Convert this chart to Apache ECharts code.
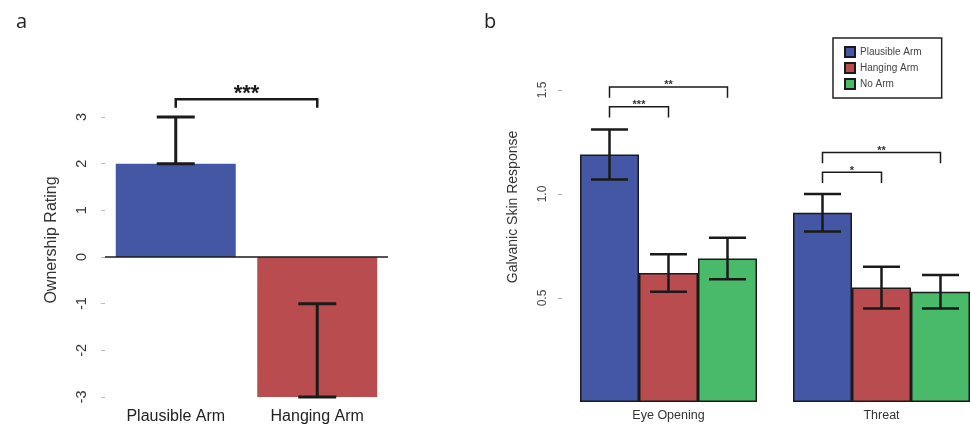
<!DOCTYPE html>
<html>
<head>
<meta charset="utf-8">
<script src="https://cdn.jsdelivr.net/npm/echarts@6/dist/echarts.min.js"></script>
<style>
html,body{margin:0;padding:0;background:#fff;}
#chart{width:970px;height:427px;}
</style>
</head>
<body>
<div id="chart"></div>
<script>
// ---------- Panel a data ----------
const catsA = ['Plausible Arm', 'Hanging Arm'];
const ownershipMean = [2, -3];
const ownershipErrLow = [2, -3];
const ownershipErrHigh = [3, -1];
const sigAFrom = [0];
const sigATo = [1];
const sigALevel = [3.38];
const sigALabel = ['***'];

// ---------- Panel b data ----------
const catsB = ['Eye Opening', 'Threat'];
const seriesNamesB = ['Plausible Arm', 'Hanging Arm', 'No Arm'];
const gsrPlausible = [1.19, 0.91];
const gsrHanging = [0.62, 0.55];
const gsrNoArm = [0.69, 0.53];
const gsrPlausibleLow = [1.07, 0.82];
const gsrPlausibleHigh = [1.31, 1.00];
const gsrHangingLow = [0.53, 0.45];
const gsrHangingHigh = [0.71, 0.65];
const gsrNoArmLow = [0.59, 0.45];
const gsrNoArmHigh = [0.79, 0.61];
// brackets: category, from series, to series, level, label
const sigBCat = [0, 0, 1, 1];
const sigBFrom = [0, 0, 0, 0];
const sigBTo = [2, 1, 2, 1];
const sigBLevel = [1.515, 1.42, 1.20, 1.105];
const sigBLabel = ['**', '***', '**', '*'];

// ---------- styles ----------
const FONT = 'Liberation Sans, Arial, sans-serif';
const BLUE = '#4357a5';
const RED = '#b94c4f';
const GREEN = '#49b96a';
const INK = '#1a1a1a';
const BAR_W_B = 59;
const CAP_A = 38;
const CAP_B = 37;

const chart = echarts.init(document.getElementById('chart'), null, {renderer: 'canvas'});

const errA = catsA.map((c, i) => [i, ownershipErrLow[i], ownershipErrHigh[i]]);
const bracketA = sigAFrom.map((f, i) => [f, sigATo[i], sigALevel[i], sigALabel[i]]);

const lowsB = [gsrPlausibleLow, gsrHangingLow, gsrNoArmLow];
const highsB = [gsrPlausibleHigh, gsrHangingHigh, gsrNoArmHigh];
const errB = [];
catsB.forEach((c, ci) => {
  for (let s = 0; s < 3; s++) errB.push([ci, s, lowsB[s][ci], highsB[s][ci]]);
});
const bracketB = sigBCat.map((c, i) => [c, sigBFrom[i], sigBTo[i], sigBLevel[i], sigBLabel[i]]);

function errBar(x, y1, y2, cap, w) {
  return [
    {type: 'line', shape: {x1: x, y1: y1, x2: x, y2: y2}, style: {stroke: INK, lineWidth: w}},
    {type: 'line', shape: {x1: x - cap / 2, y1: y1, x2: x + cap / 2, y2: y1}, style: {stroke: INK, lineWidth: w}},
    {type: 'line', shape: {x1: x - cap / 2, y1: y2, x2: x + cap / 2, y2: y2}, style: {stroke: INK, lineWidth: w}}
  ];
}

const option = {
  backgroundColor: '#ffffff',
  animation: false,
  title: [
    {text: 'a', left: 11, top: 7, textStyle: {fontFamily: 'Open Sans, sans-serif', fontSize: 20, fontWeight: 'normal', color: '#222'}},
    {text: 'b', left: 479, top: 7, textStyle: {fontFamily: 'Open Sans, sans-serif', fontSize: 20, fontWeight: 'normal', color: '#222'}}
  ],
  legend: {
    data: seriesNamesB,
    orient: 'vertical',
    left: 833,
    top: 38,
    width: 113,
    padding: [8, 20, 8, 11],
    itemGap: 4,
    itemWidth: 10,
    itemHeight: 10,
    icon: 'rect',
    borderColor: '#222',
    borderWidth: 1.5,
    textStyle: {fontFamily: FONT, fontSize: 10, color: '#444'}
  },
  grid: [
    {left: 105, top: 117, width: 283, height: 280, outerBoundsMode: 'none', containLabel: false},
    {left: 562, top: 90, width: 426, height: 312, outerBoundsMode: 'none', containLabel: false}
  ],
  xAxis: [
    {
      type: 'category', gridIndex: 0, data: catsA,
      axisLine: {show: false, onZero: false}, axisTick: {show: false},
      axisLabel: {fontFamily: FONT, fontSize: 16, color: '#222', margin: 12}
    },
    {
      type: 'category', gridIndex: 1, data: catsB,
      axisLine: {show: false, onZero: false}, axisTick: {show: false},
      axisLabel: {fontFamily: FONT, fontSize: 12.5, color: '#333', margin: 7}
    }
  ],
  yAxis: [
    {
      type: 'value', gridIndex: 0, min: -3, max: 3, interval: 1,
      name: 'Ownership Rating', nameLocation: 'middle', nameGap: 45,
      nameTextStyle: {fontFamily: FONT, fontSize: 16, color: '#333', padding: [0, 0, 0, 34]},
      axisLine: {show: false},
      axisTick: {show: true, length: 4, lineStyle: {color: '#bbb'}},
      axisLabel: {rotate: 90, fontFamily: FONT, fontSize: 14.5, color: '#333', margin: 16},
      splitLine: {show: false}
    },
    {
      type: 'value', gridIndex: 1, min: 0, max: 1.5, interval: 0.5,
      name: 'Galvanic Skin Response', nameLocation: 'middle', nameGap: 42,
      nameTextStyle: {fontFamily: FONT, fontSize: 14, color: '#333', padding: [0, 0, 0, 78]},
      axisLine: {show: false},
      axisTick: {show: true, length: 4, lineStyle: {color: '#aaa'}},
      axisLabel: {rotate: 90, fontFamily: FONT, fontSize: 12, color: '#444', margin: 13, showMinLabel: false,
        formatter: v => v.toFixed(1)},
      splitLine: {show: false}
    }
  ],
  series: [
    {
      name: 'Ownership', type: 'bar', xAxisIndex: 0, yAxisIndex: 0, barWidth: 120,
      data: ownershipMean.map((v, i) => ({value: v, itemStyle: {color: i === 0 ? BLUE : RED}})),
      markLine: {
        silent: true, symbol: 'none', label: {show: false},
        lineStyle: {color: INK, width: 1.5, type: 'solid'},
        data: [{yAxis: 0}]
      },
      z: 2
    },
    {
      name: 'errA', type: 'custom', xAxisIndex: 0, yAxisIndex: 0, data: errA, z: 5,
      renderItem: function (params, api) {
        const p1 = api.coord([api.value(0), api.value(1)]);
        const p2 = api.coord([api.value(0), api.value(2)]);
        return {type: 'group', children: errBar(p1[0], p1[1], p2[1], CAP_A, 3)};
      }
    },
    {
      name: 'sigA', type: 'custom', xAxisIndex: 0, yAxisIndex: 0, data: bracketA, z: 5, clip: false,
      renderItem: function (params, api) {
        const d = bracketA[params.dataIndex];
        const a = api.coord([d[0], d[2]]);
        const b = api.coord([d[1], d[2]]);
        const drop = api.coord([d[0], d[2] - 0.18])[1];
        return {type: 'group', children: [
          {type: 'polyline', shape: {points: [[a[0], drop], [a[0], a[1]], [b[0], a[1]], [b[0], drop]]},
            style: {stroke: INK, lineWidth: 2.5, fill: null}},
          {type: 'text', x: (a[0] + b[0]) / 2, y: a[1] + 6,
            style: {text: d[3], fontFamily: FONT, fontSize: 22, fontWeight: 'bold', fill: INK, align: 'center', verticalAlign: 'bottom'}}
        ]};
      }
    },
    {
      name: 'Plausible Arm', type: 'bar', xAxisIndex: 1, yAxisIndex: 1, barWidth: BAR_W_B, barGap: '0%',
      data: gsrPlausible, itemStyle: {color: BLUE, borderColor: INK, borderWidth: 1.5}
    },
    {
      name: 'Hanging Arm', type: 'bar', xAxisIndex: 1, yAxisIndex: 1, barWidth: BAR_W_B, barGap: '0%',
      data: gsrHanging, itemStyle: {color: RED, borderColor: INK, borderWidth: 1.5}
    },
    {
      name: 'No Arm', type: 'bar', xAxisIndex: 1, yAxisIndex: 1, barWidth: BAR_W_B, barGap: '0%',
      data: gsrNoArm, itemStyle: {color: GREEN, borderColor: INK, borderWidth: 1.5}
    },
    {
      name: 'errB', type: 'custom', xAxisIndex: 1, yAxisIndex: 1, data: errB, z: 5,
      renderItem: function (params, api) {
        const d = errB[params.dataIndex];
        const p1 = api.coord([d[0], d[2]]);
        const p2 = api.coord([d[0], d[3]]);
        const x = p1[0] + (d[1] - 1) * BAR_W_B;
        return {type: 'group', children: errBar(x, p1[1], p2[1], CAP_B, 2.5)};
      }
    },
    {
      name: 'sigB', type: 'custom', xAxisIndex: 1, yAxisIndex: 1, data: bracketB, z: 5, clip: false,
      renderItem: function (params, api) {
        const d = bracketB[params.dataIndex];
        const c = api.coord([d[0], d[3]]);
        const xa = c[0] + (d[1] - 1) * BAR_W_B;
        const xb = c[0] + (d[2] - 1) * BAR_W_B;
        const drop = api.coord([d[0], d[3] - 0.052])[1];
        return {type: 'group', children: [
          {type: 'polyline', shape: {points: [[xa, drop], [xa, c[1]], [xb, c[1]], [xb, drop]]},
            style: {stroke: INK, lineWidth: 1.5, fill: null}},
          {type: 'text', x: (xa + xb) / 2, y: c[1] + 4,
            style: {text: d[4], fontFamily: FONT, fontSize: 11, fontWeight: 'bold', fill: '#333', align: 'center', verticalAlign: 'bottom'}}
        ]};
      }
    }
  ]
};
chart.setOption(option);
</script>
</body>
</html>
